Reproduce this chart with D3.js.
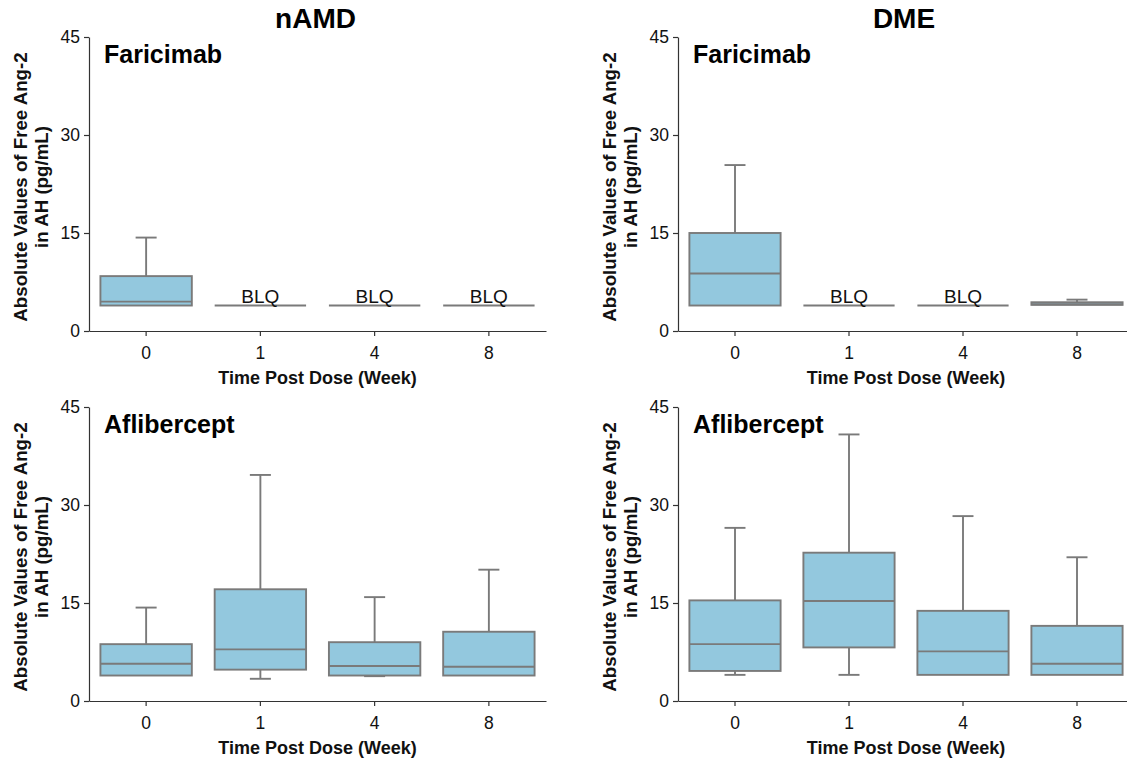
<!DOCTYPE html>
<html>
<head>
<meta charset="utf-8">
<script src="https://cdn.jsdelivr.net/npm/d3@7"></script>
<style>
  html, body { margin: 0; padding: 0; background: #fff; }
  svg { display: block; font-family: "Liberation Sans", Arial, sans-serif; }
</style>
</head>
<body>
<svg id="chart" width="1127" height="759"></svg>
<script>
// ---- data ----
const weeks = ["0", "1", "4", "8"];
const yTicks = [0, 15, 30, 45];
const columnTitles = ["nAMD", "DME"];
const rowTitles = ["Faricimab", "Aflibercept"];
const yTitleLines = ["Absolute Values of Free Ang-2", "in AH (pg/mL)"];
const xTitle = "Time Post Dose (Week)";
const blqLabel = "BLQ";

// each entry: [lower whisker, Q1, median, Q3, upper whisker]
const namdFaricimab = [[3.9, 3.9, 4.5, 8.4, 14.3], [3.9, 3.9, 3.9, 3.9, 3.9], [3.9, 3.9, 3.9, 3.9, 3.9], [3.9, 3.9, 3.9, 3.9, 3.9]];
const namdFaricimabBLQ = [false, true, true, true];
const dmeFaricimab = [[3.9, 3.9, 8.8, 15.0, 25.4], [3.9, 3.9, 3.9, 3.9, 3.9], [3.9, 3.9, 3.9, 3.9, 3.9], [4.0, 4.0, 4.1, 4.4, 4.8]];
const dmeFaricimabBLQ = [false, true, true, false];
const namdAflibercept = [[3.9, 3.9, 5.7, 8.7, 14.3], [3.4, 4.8, 7.9, 17.1, 34.6], [3.8, 3.9, 5.35, 9.0, 15.9], [3.9, 3.9, 5.25, 10.6, 20.1]];
const namdAfliberceptBLQ = [false, false, false, false];
const dmeAflibercept = [[4.0, 4.6, 8.7, 15.4, 26.5], [4.0, 8.2, 15.3, 22.7, 40.8], [4.0, 4.0, 7.6, 13.8, 28.3], [4.0, 4.0, 5.7, 11.5, 22.0]];
const dmeAfliberceptBLQ = [false, false, false, false];

// ---- layout ----
const colX = [[89, 546], [678, 1134]];
const rowY = [[331, 37], [701, 407]];
const panels = [
  { col: 0, row: 0, data: namdFaricimab, blq: namdFaricimabBLQ },
  { col: 1, row: 0, data: dmeFaricimab, blq: dmeFaricimabBLQ },
  { col: 0, row: 1, data: namdAflibercept, blq: namdAfliberceptBLQ },
  { col: 1, row: 1, data: dmeAflibercept, blq: dmeAfliberceptBLQ }
];

const boxFill = "#93c8de";
const boxStroke = "#7a7a7a";
const axisColor = "#333";

const svg = d3.select("#chart");

panels.forEach(p => {
  const [x0, x1] = colX[p.col];
  const [yb, yt] = rowY[p.row];
  const x = d3.scaleBand().domain(weeks).range([x0, x1]).paddingInner(0.2).paddingOuter(0.1);
  const y = d3.scaleLinear().domain([0, 45]).range([yb, yt]);
  const g = svg.append("g");

  // axes
  const xa = g.append("g").attr("transform", `translate(0,${yb})`)
    .call(d3.axisBottom(x).tickSize(5).tickSizeOuter(0).tickPadding(11));
  const ya = g.append("g").attr("transform", `translate(${x0},0)`)
    .call(d3.axisLeft(y).tickValues(yTicks).tickSize(5).tickSizeOuter(0).tickPadding(4));
  [xa, ya].forEach(a => {
    a.selectAll("path, line").attr("stroke", axisColor).attr("stroke-width", 1.2);
    a.selectAll("text").attr("fill", "#111").style("font-size", "17.5px")
      .style("font-family", '"Liberation Sans", Arial, sans-serif');
  });

  // boxes
  const bw = x.bandwidth();
  const capW = bw * 0.23;
  p.data.forEach((d, i) => {
    const cx = x(weeks[i]) + bw / 2;
    const [lo, q1, med, q3, hi] = d;
    const bg = g.append("g").attr("stroke", boxStroke).attr("stroke-width", 1.9).attr("fill", "none");
    if (hi > q3) {
      bg.append("line").attr("x1", cx).attr("x2", cx).attr("y1", y(q3)).attr("y2", y(hi));
      bg.append("line").attr("x1", cx - capW / 2).attr("x2", cx + capW / 2).attr("y1", y(hi)).attr("y2", y(hi));
    }
    if (lo < q1) {
      bg.append("line").attr("x1", cx).attr("x2", cx).attr("y1", y(q1)).attr("y2", y(lo));
      bg.append("line").attr("x1", cx - capW / 2).attr("x2", cx + capW / 2).attr("y1", y(lo)).attr("y2", y(lo));
    }
    bg.append("rect").attr("x", x(weeks[i])).attr("width", bw)
      .attr("y", y(q3)).attr("height", Math.max(0, y(q1) - y(q3)))
      .attr("fill", boxFill);
    bg.append("line").attr("x1", x(weeks[i])).attr("x2", x(weeks[i]) + bw)
      .attr("y1", y(med)).attr("y2", y(med));
    if (p.blq[i]) {
      g.append("text").attr("x", cx).attr("y", y(q3) - 3)
        .attr("text-anchor", "middle").attr("fill", "#111")
        .style("font-size", "19px").text(blqLabel);
    }
  });

  // row label
  g.append("text").attr("x", x0 + 15).attr("y", yt + 26)
    .style("font-size", "25px").style("font-weight", "bold").attr("fill", "#000")
    .text(rowTitles[p.row]);

  // y title
  const cy = (yb + yt) / 2 + 3;
  yTitleLines.forEach((line, k) => {
    g.append("text")
      .attr("transform", `translate(${x0 - 62 + k * 21},${cy}) rotate(-90)`)
      .attr("text-anchor", "middle")
      .style("font-size", "18.7px").style("font-weight", "bold").attr("fill", "#111")
      .text(line);
  });

  // x title
  g.append("text").attr("x", (x0 + x1) / 2).attr("y", yb + 53)
    .attr("text-anchor", "middle")
    .style("font-size", "18px").style("font-weight", "bold").attr("fill", "#111")
    .text(xTitle);

  // column title
  if (p.row === 0) {
    g.append("text").attr("x", (x0 + x1) / 2 - 2).attr("y", 28)
      .attr("text-anchor", "middle")
      .style("font-size", "28px").style("font-weight", "bold").attr("fill", "#000")
      .text(columnTitles[p.col]);
  }
});
</script>
</body>
</html>
